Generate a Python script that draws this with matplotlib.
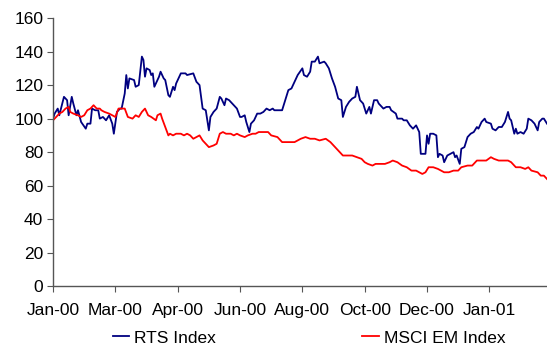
import matplotlib
matplotlib.use("Agg")
import matplotlib.pyplot as plt

# Trading-day index (0 = first trading day of Jan 2000), rebased to 100
rts_days = [0, 1, 3, 4, 7, 9, 10, 12, 13, 15,
            16, 18, 21, 22, 24, 25, 27, 29, 30, 32,
            34, 36, 38, 39, 41, 43, 44, 46, 47, 48,
            49, 52, 53, 55, 57, 58, 59, 60, 62, 63,
            64, 65, 67, 68, 69, 71, 72, 74, 75, 77,
            78, 79, 82, 85, 86, 90, 92, 94, 95, 96,
            98, 100, 101, 103, 105, 107, 108, 110, 111, 113,
            115, 117, 118, 120, 121, 123, 124, 126, 127, 129,
            131, 133, 135, 137, 139, 141, 142, 145, 147, 149,
            151, 153, 155, 157, 160, 161, 163, 165, 166, 168,
            170, 171, 174, 175, 177, 179, 181, 183, 185, 186,
            188, 190, 192, 194, 195, 197, 199, 201, 203, 204,
            206, 208, 209, 212, 214, 216, 217, 220, 221, 224,
            225, 227, 229, 231, 233, 235, 236, 237, 239, 240,
            241, 242, 244, 246, 247, 248, 250, 251, 253, 255,
            257, 258, 259, 261, 262, 264, 266, 268, 270, 272,
            273, 275, 277, 278, 281, 282, 284, 286, 288, 290,
            292, 293, 294, 296, 297, 298, 300, 302, 304, 305,
            307, 309, 311, 312, 314, 315, 317]
rts_vals = [100, 103, 106, 102, 113, 111, 102, 113, 109, 102,
            105, 98, 94, 97, 97, 106, 105, 105, 100, 101,
            99, 102, 97, 91, 104, 106, 106, 115, 126, 118,
            124, 123, 119, 120, 137, 135, 125, 130, 129, 126,
            127, 119, 123, 125, 128, 124, 123, 114, 113, 119,
            117, 121, 127, 127, 126, 127, 122, 120, 113, 106,
            105, 93, 101, 104, 106, 113, 112, 108, 112, 111,
            109, 107, 106, 101, 101, 102, 98, 92, 97, 99,
            103, 103, 104, 106, 105, 106, 105, 105, 105, 111,
            117, 118, 122, 126, 130, 126, 125, 128, 134, 134,
            137, 133, 134, 133, 130, 124, 119, 112, 111, 101,
            107, 110, 112, 113, 119, 111, 109, 103, 107, 103,
            111, 111, 109, 106, 107, 107, 105, 103, 100, 100,
            99, 99, 96, 94, 96, 92, 79, 79, 79, 90,
            85, 91, 91, 90, 77, 79, 78, 74, 78, 79,
            80, 77, 78, 73, 82, 83, 89, 91, 92, 95,
            94, 98, 100, 98, 97, 94, 93, 95, 95, 98,
            104, 100, 99, 91, 94, 91, 92, 91, 94, 100,
            99, 97, 93, 98, 100, 100, 97]

msci_days = [0, 1, 3, 4, 6, 8, 10, 11, 13, 16,
             18, 20, 22, 24, 26, 28, 30, 31, 33, 36,
             38, 40, 42, 44, 46, 48, 51, 53, 55, 57,
             59, 61, 63, 66, 67, 69, 70, 72, 74, 75,
             77, 79, 82, 84, 86, 88, 90, 92, 94, 96,
             99, 100, 103, 105, 107, 109, 111, 114, 116, 118,
             120, 123, 125, 128, 130, 132, 135, 138, 140, 144,
             147, 150, 153, 155, 159, 162, 165, 168, 171, 175,
             178, 181, 184, 186, 189, 192, 195, 198, 200, 202,
             205, 207, 210, 213, 216, 218, 221, 224, 227, 230,
             233, 237, 239, 241, 244, 247, 251, 254, 257, 260,
             262, 266, 269, 272, 275, 278, 281, 283, 286, 289,
             292, 294, 297, 300, 303, 305, 307, 311, 313, 315,
             317]
msci_vals = [99, 100, 102, 103, 104, 106, 107, 104, 103, 102,
             101, 102, 105, 106, 108, 106, 106, 105, 104, 103,
             102, 101, 106, 106, 106, 101, 100, 102, 101, 104,
             106, 102, 101, 99, 102, 103, 100, 95, 90, 91,
             90, 91, 91, 90, 91, 90, 88, 89, 90, 87,
             84, 83, 84, 85, 91, 92, 91, 91, 90, 91,
             90, 89, 90, 91, 91, 92, 92, 92, 90, 89,
             86, 86, 86, 86, 88, 89, 88, 88, 87, 88,
             86, 83, 80, 78, 78, 78, 77, 76, 74, 73,
             72, 73, 73, 73, 74, 75, 74, 72, 71, 69,
             69, 67, 68, 71, 71, 70, 68, 68, 69, 69,
             71, 72, 72, 75, 75, 75, 77, 76, 75, 75,
             75, 74, 71, 71, 70, 71, 69, 68, 66, 66,
             64]

tick_days = [0, 40, 80, 120, 160, 200, 240, 280]
tick_labels = ["Jan-00", "Mar-00", "Apr-00", "Jun-00",
               "Aug-00", "Oct-00", "Dec-00", "Jan-01"]

plt.rcParams["font.family"] = ["Liberation Sans", "DejaVu Sans"]

fig = plt.figure(figsize=(5.47, 3.47), dpi=100)
ax = fig.add_axes([0.097, 0.175, 0.903, 0.773])

ax.plot(rts_days, rts_vals, color="#000080", lw=1.3, label="RTS Index")
ax.plot(msci_days, msci_vals, color="#FF0000", lw=1.3, label="MSCI EM Index")

ax.set_xlim(0, 317)
ax.set_ylim(0, 160)
ax.set_yticks(range(0, 161, 20))
ax.set_xticks(tick_days)
ax.set_xticklabels(tick_labels)

for side in ("top", "right"):
    ax.spines[side].set_visible(False)
for side in ("left", "bottom"):
    ax.spines[side].set_color("#555555")
    ax.spines[side].set_linewidth(1.0)

ax.tick_params(axis="both", direction="out", length=4, color="#555555",
               labelsize=12.5, labelcolor="black")
ax.tick_params(axis="x", pad=8)
ax.tick_params(axis="y", pad=3)

fig.legend(loc="center", bbox_to_anchor=(309 / 547, 0.026), ncol=2,
           frameon=False, fontsize=12.5, handlelength=0.95,
           handletextpad=0.3, columnspacing=8.4)

fig.savefig("out.png", dpi=100)
